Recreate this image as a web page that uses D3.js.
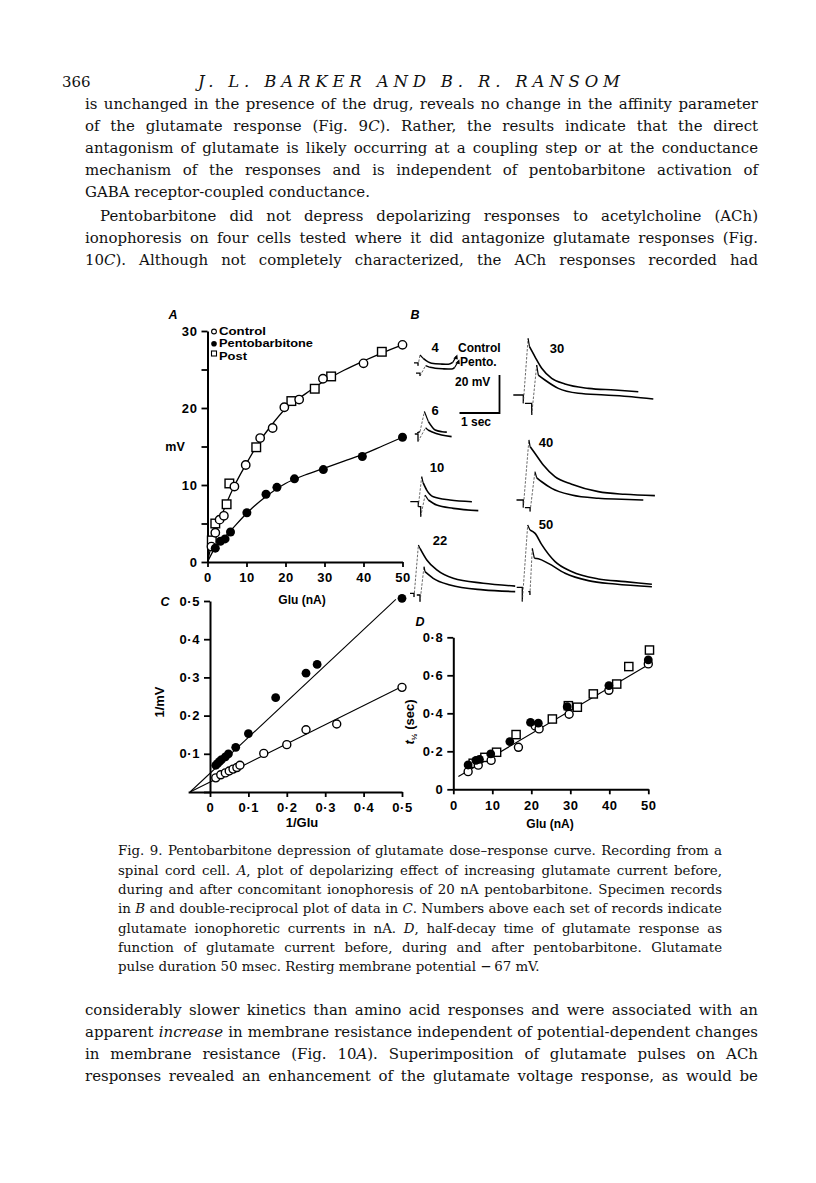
<!DOCTYPE html>
<html><head><meta charset="utf-8">
<script src="https://cdn.jsdelivr.net/npm/d3@7"></script>
<style>
body{margin:0;background:#fff;}
svg{display:block;}
</style></head>
<body>
<svg id="page" width="816" height="1183"></svg>
<script>
// ---------------- DATA ----------------
// Panel A: depolarization (mV) vs glutamate current (nA)
const aControl = [[1,2.0],[2,3.8],[3.1,5.5],[4.2,6.0],[6.9,9.8],[9.8,12.6],[13.5,16.1],[16.7,17.4],[19.7,20.1],[23.5,21.1],[29.6,23.8],[40,25.8],[50,28.2]];
const aPento = [[2,1.8],[3.3,2.7],[4.5,3.0],[5.9,3.9],[10.1,6.4],[15,8.8],[17.8,9.7],[22.3,10.8],[29.7,12.0],[39.7,13.7],[50,16.2]];
const aPost = [[1.1,2.8],[2.0,5.0],[4.9,7.5],[5.6,10.2],[12.5,14.9],[21.5,20.9],[27.5,22.5],[31.7,24.1],[44.7,27.3]];
const aControlCurve = [[0,0],[1,2.2],[2,3.9],[3,5.2],[5,7.8],[7,10.0],[10,12.8],[13,15.4],[16,17.5],[20,19.9],[25,21.8],[30,23.5],[35,24.9],[40,26.1],[45,27.2],[50,28.2]];
const aPentoCurve = [[0,0],[2,1.9],[4,3.0],[6,4.1],[10,6.3],[15,8.5],[20,10.2],[25,11.3],[30,12.2],[35,13.1],[40,14.0],[45,15.1],[50,16.2]];
const aXTicks = [0,10,20,30,40,50];
const aYTicks = [0,5,10,15,20,25,30];
const aYLabels = [0,10,20,30];
const aLegend = ["Control","Pentobarbitone","Post"];

// Panel C: double reciprocal plot
const cControl = [[0.015,0.037],[0.028,0.045],[0.04,0.05],[0.05,0.055],[0.06,0.06],[0.07,0.064],[0.078,0.07],[0.14,0.101],[0.2,0.124],[0.25,0.163],[0.33,0.178],[0.5,0.274]];
const cPento = [[0.015,0.07],[0.02,0.075],[0.025,0.08],[0.03,0.085],[0.04,0.092],[0.048,0.1],[0.067,0.117],[0.1,0.153],[0.171,0.247],[0.25,0.311],[0.279,0.334],[0.5,0.507]];
const cControlLine = [[-0.052,0],[0.5,0.276]];
const cPentoLine = [[-0.052,0],[0.484,0.504]];
const cXTicks = [0,0.1,0.2,0.3,0.4,0.5];
const cYTicks = [0,0.1,0.2,0.3,0.4,0.5];

// Panel D: half-decay time (sec) vs Glu (nA)
const dControl = [[3.8,0.093],[6.4,0.127],[9.7,0.152],[16.7,0.221],[21,0.333],[22,0.318],[29.7,0.395],[39.9,0.521],[50,0.66]];
const dPento = [[3.8,0.128],[5.8,0.152],[6.7,0.158],[9.6,0.186],[14.5,0.251],[19.8,0.352],[21.8,0.348],[29.2,0.435],[39.9,0.546],[50,0.681]];
const dPost = [[5.1,0.137],[8.1,0.168],[11.1,0.195],[16.1,0.288],[25.4,0.37],[29.5,0.44],[31.8,0.432],[35.9,0.502],[41.9,0.554],[45,0.646],[50.3,0.733]];
const dLine = [[1.3,0.067],[50,0.655]];
const dXTicks = [0,10,20,30,40,50];
const dYTicks = [0,0.2,0.4,0.6,0.8];

// Panel B: specimen records, points as [time (sec), potential (mV)]
const rec4 = {label:"4",
  control:{pre:[[-0.1,-0.5],[0,-0.5],[0,-2]], decay:[[0.05,3.7],[0.13,1.9],[0.34,-0.7],[0.6,-1.1],[0.76,-1.2],[0.87,-0.2]]},
  pento:{pre:[[-0.05,-5.9],[0.05,-5.9],[0.05,-7.4]], decay:[[0.19,-1.9],[0.3,-2.8],[0.43,-3.3],[0.65,-3.6],[0.84,-3.7],[0.92,-2.8]]}};
const rec6 = {label:"6",
  control:{pre:[[-0.02,0.6],[0.05,1.2]], decay:[[0.16,11.8],[0.26,6.5],[0.43,2.1],[0.6,1.2],[0.72,1.0]]},
  pento:{pre:[[-0.08,0],[0,0],[0,-4]], decay:[[0.19,3.3],[0.25,2.1],[0.34,1.2],[0.59,-0.5],[0.84,-1.4]]}};
const rec10 = {label:"10",
  control:{pre:[[-0.2,0],[0,0],[0,-2.6]], decay:[[0.085,13.2],[0.12,10],[0.21,6.1],[0.375,2.6],[0.79,0.9],[1.34,0]]},
  pento:{pre:[[0,-2.6],[0.06,-2.6],[0.06,-7.9]], decay:[[0.17,3.5],[0.25,0.9],[0.46,-1.8],[0.875,-3.5],[1.5,-4.7]]}};
const rec22 = {label:"22",
  control:{pre:[[-0.1,0],[0,0],[0,-2]], decay:[[0.11,25.4],[0.15,23.6],[0.32,17.5],[0.57,12.3],[0.98,7.9],[1.73,5.3],[2.53,3.8]]},
  pento:{pre:[[0.07,-0.9],[0.15,-0.9],[0.15,-4.4]], decay:[[0.25,14],[0.275,11.4],[0.48,7.9],[0.9,4.4],[1.73,1.8],[2.53,0.9]]}};
const rec30 = {label:"30",
  control:{pre:[[-0.25,0],[0,0],[0,-4.4]], decay:[[0.12,29.8],[0.155,25.4],[0.29,20.2],[0.46,14.1],[0.71,8.8],[1.04,5.8],[1.63,3.5],[2.29,2.6],[2.875,1.7]]},
  pento:{pre:[[0.04,-4.4],[0.21,-4.4],[0.21,-10.5]], decay:[[0.335,15.8],[0.375,10.5],[0.54,7.9],[0.875,3.5],[1.375,0.9],[2.04,0],[2.71,-0.9],[3.25,-2.1]]}};
const rec40 = {label:"40",
  control:{pre:[[-0.17,0],[0,0],[0,-4]], decay:[[0.14,31.6],[0.17,28.1],[0.29,24.6],[0.5,18.4],[0.79,12.3],[1.21,8.3],[1.875,4.4],[2.54,3.0],[3.29,2.3]]},
  pento:{pre:[[0.04,-4],[0.17,-4],[0.17,-6]], decay:[[0.29,14.9],[0.335,11.7],[0.46,9.6],[0.71,6.1],[1.21,2.6],[1.875,0.9],[2.46,0.4],[3.0,0]]}};
const rec50 = {label:"50",
  control:{pre:[[-0.14,0],[0,0],[0,-7.5]], decay:[[0.135,32.8],[0.19,30.2],[0.32,28.4],[0.49,22.3],[0.82,13.5],[1.23,8.3],[1.9,4.4],[2.57,3.0],[3.24,1.6]]},
  pento:{pre:[[0.15,-2.3],[0.19,-2.3],[0.19,-4]], decay:[[0.25,20.5],[0.3,15.3],[0.4,15.0],[0.65,12.6],[1.07,7.4],[1.65,3.5],[2.32,1.7],[3.24,0.3]]}};
const records = [rec4, rec6, rec10, rec22, rec30, rec40, rec50];
const scaleBarMV = 20, scaleBarSec = 1;

// Page text
const headerNum = "366";
const headerTitle = "J. L. BARKER AND B. R. RANSOM";
const para1 = [
 ["is unchanged in the presence of the drug, reveals no change in the affinity parameter", true],
 ["of the glutamate response (Fig. 9*C*). Rather, the results indicate that the direct", true],
 ["antagonism of glutamate is likely occurring at a coupling step or at the conductance", true],
 ["mechanism of the responses and is independent of pentobarbitone activation of", true],
 ["GABA receptor-coupled conductance.", false]];
const para2 = [
 ["Pentobarbitone did not depress depolarizing responses to acetylcholine (ACh)", true],
 ["ionophoresis on four cells tested where it did antagonize glutamate responses (Fig.", true],
 ["10*C*). Although not completely characterized, the ACh responses recorded had", true]];
const caption = [
 ["Fig. 9. Pentobarbitone depression of glutamate dose\u2013response curve. Recording from a", true],
 ["spinal cord cell. *A*, plot of depolarizing effect of increasing glutamate current before,", true],
 ["during and after concomitant ionophoresis of 20 nA pentobarbitone. Specimen records", true],
 ["in *B* and double-reciprocal plot of data in *C*. Numbers above each set of records indicate", true],
 ["glutamate ionophoretic currents in nA. *D*, half-decay time of glutamate response as", true],
 ["function of glutamate current before, during and after pentobarbitone. Glutamate", true],
 ["pulse duration 50 msec. Restirg membrane potential \u2212\u200967 mV.", false]];
const para3 = [
 ["considerably slower kinetics than amino acid responses and were associated with an", true],
 ["apparent *increase* in membrane resistance independent of potential-dependent changes", true],
 ["in membrane resistance (Fig. 10*A*). Superimposition of glutamate pulses on ACh", true],
 ["responses revealed an enhancement of the glutamate voltage response, as would be", true]];

// ---------------- DRAW ----------------
const svg = d3.select('#page');
svg.append('rect').attr('width',816).attr('height',1183).attr('fill','#fff');
const SANS = '"Liberation Sans", Arial, Helvetica, sans-serif';
const SERIF = '"DejaVu Serif", "Liberation Serif", serif';
const INK = '#111';

// ---- text helpers
function addRich(t, str) {
  str.split('*').forEach((s, i) => { if (s.length) t.append('tspan').attr('font-style', i % 2 ? 'italic' : null).text(s); });
}
function measure(str, size) {
  const t = svg.append('text').attr('font-family', SERIF).attr('font-size', size);
  addRich(t, str);
  const w = t.node().getComputedTextLength();
  t.remove();
  return w;
}
function fitSize(lines, width) {
  const maxW = d3.max(lines.filter(l => l[1]), l => measure(l[0], 14));
  return 14 * width / maxW;
}
function textLine(g, x, y, str, width, justify, size) {
  const t = g.append('text').attr('x', x).attr('y', y)
    .attr('font-family', SERIF).attr('font-size', size.toFixed(2)).attr('fill', INK);
  addRich(t, str);
  if (justify) {
    const nat = t.node().getComputedTextLength();
    const spaces = (str.match(/ /g) || []).length;
    if (spaces > 0) {
      t.attr('word-spacing', ((width - nat) / spaces).toFixed(2));
      const now = t.node().getComputedTextLength();
      if (Math.abs(now - width) > 2) {
        t.attr('word-spacing', null).attr('textLength', width).attr('lengthAdjust', 'spacing');
      }
    }
  }
  return t;
}
const txt = svg.append('g');
const bodyL = 85, bodyW = 673;
const bodySize = fitSize(para1.concat(para2.slice(1), para3), bodyW - 3);
const capSize = fitSize(caption, 604 - 3);
txt.append('text').attr('x', 62).attr('y', 87).attr('font-family', SERIF).attr('font-size', bodySize.toFixed(2)).attr('fill', INK).text(headerNum);
txt.append('text').attr('x', 198).attr('y', 87).attr('font-family', SERIF).attr('font-size', 16.5).attr('font-style','italic')
  .attr('fill', INK).attr('textLength', 422).attr('lengthAdjust','spacing').text(headerTitle);
const p1Y = [109,131,153,175,197];
para1.forEach((l, i) => textLine(txt, bodyL, p1Y[i], l[0], bodyW, l[1], bodySize));
const p2Y = [221,243,265];
para2.forEach((l, i) => textLine(txt, i === 0 ? 100 : bodyL, p2Y[i], l[0], i === 0 ? bodyW - 15 : bodyW, l[1], bodySize));
const capY = [855,875,894,913,933,952,971];
caption.forEach((l, i) => textLine(txt, 118, capY[i], l[0], 604, l[1], capSize));
const p3Y = [1015,1037,1059,1081];
para3.forEach((l, i) => textLine(txt, bodyL, p3Y[i], l[0], bodyW, l[1], bodySize));

// ---- figure helpers
const fig = svg.append('g').attr('font-family', SANS).attr('fill', '#000');
const dotFmt = v => (v === 0 ? '0' : d3.format('.1f')(v).replace('.', '\u00B7'));
function styleAxis(g) {
  g.select('.domain').attr('stroke', '#000').attr('stroke-width', 2);
  g.selectAll('.tick line').attr('stroke', '#000').attr('stroke-width', 1.8);
  g.selectAll('.tick text').attr('font-family', SANS).attr('font-size', 13).attr('font-weight', 'bold').attr('fill', '#000');
}
function openCircles(g, data, x, y, r) {
  g.append('g').selectAll('circle').data(data).join('circle')
    .attr('cx', d => x(d[0])).attr('cy', d => y(d[1])).attr('r', r || 4.2)
    .attr('fill', '#fff').attr('stroke', '#000').attr('stroke-width', 1.4);
}
function filledCircles(g, data, x, y, r) {
  g.append('g').selectAll('circle').data(data).join('circle')
    .attr('cx', d => x(d[0])).attr('cy', d => y(d[1])).attr('r', r || 4.5).attr('fill', '#000');
}
function openSquares(g, data, x, y, s) {
  s = s || 8.6;
  g.append('g').selectAll('rect').data(data).join('rect')
    .attr('x', d => x(d[0]) - s / 2).attr('y', d => y(d[1]) - s / 2).attr('width', s).attr('height', s)
    .attr('fill', '#fff').attr('stroke', '#000').attr('stroke-width', 1.4);
}
function panelLabel(x, y, s) {
  fig.append('text').attr('x', x).attr('y', y).attr('font-size', 12.5).attr('font-weight', 'bold')
    .attr('font-style', 'italic').attr('text-anchor', 'middle').text(s);
}

// ---- Panel A
const xA = d3.scaleLinear().domain([0, 50]).range([207.5, 402.5]);
const yA = d3.scaleLinear().domain([0, 30]).range([562, 331]);
const gA = fig.append('g');
gA.append('g').attr('transform', `translate(0,${yA(0)})`)
  .call(d3.axisBottom(xA).tickValues(aXTicks).tickSize(5).tickSizeOuter(0).tickPadding(6)).call(styleAxis);
gA.append('g').attr('transform', `translate(${xA(0)},0)`)
  .call(d3.axisLeft(yA).tickValues(aYTicks).tickSize(6).tickSizeOuter(0).tickPadding(4)
    .tickFormat(d => aYLabels.includes(d) ? d : '')).call(styleAxis);
const lineA = d3.line().x(d => xA(d[0])).y(d => yA(d[1])).curve(d3.curveMonotoneX);
gA.append('path').attr('d', lineA(aControlCurve)).attr('fill', 'none').attr('stroke', '#000').attr('stroke-width', 1.3);
gA.append('path').attr('d', lineA(aPentoCurve)).attr('fill', 'none').attr('stroke', '#000').attr('stroke-width', 1.3);
openSquares(gA, aPost, xA, yA);
openCircles(gA, aControl, xA, yA);
filledCircles(gA, aPento, xA, yA);
// legend
const legY = [334.5, 347.2, 360];
const lg = gA.append('g');
lg.append('circle').attr('cx', 214).attr('cy', legY[0] - 3).attr('r', 2.4).attr('fill', '#fff').attr('stroke', '#000').attr('stroke-width', 1.1);
lg.append('circle').attr('cx', 214).attr('cy', legY[1] - 3.5).attr('r', 2.8).attr('fill', '#000');
lg.append('rect').attr('x', 211.5).attr('y', legY[2] - 9).attr('width', 5).attr('height', 5).attr('fill', '#fff').attr('stroke', '#000').attr('stroke-width', 1.1);
aLegend.forEach((s, i) => lg.append('text').attr('x', 219).attr('y', legY[i]).attr('font-size', 11).attr('font-weight', 'bold')
  .attr('textLength', [47, 94, 28][i]).attr('lengthAdjust', 'spacingAndGlyphs').text(s));
gA.append('text').attr('x', 175).attr('y', 451).attr('text-anchor', 'middle').attr('font-size', 12.5).attr('font-weight', 'bold').text('mV');
gA.append('text').attr('x', 302).attr('y', 604).attr('text-anchor', 'middle').attr('font-size', 12).attr('font-weight', 'bold').text('Glu (nA)');
panelLabel(173, 319, 'A');

// ---- Panel B
panelLabel(415, 319, 'B');
const tS = d3.scaleLinear().domain([0, 1]).range([0, 40]);
const vS = d3.scaleLinear().domain([0, 20]).range([0, -38]);
const recLayout = [
  {ox: 418, oy: 362, lx: 435, ly: 352},
  {ox: 418, oy: 434, lx: 435, ly: 415},
  {ox: 418.3, oy: 501.7, lx: 437, ly: 472},
  {ox: 414, oy: 593.3, lx: 440, ly: 545},
  {ox: 523.3, oy: 395, lx: 557, ly: 353},
  {ox: 523.3, oy: 500, lx: 546, ly: 447},
  {ox: 522.3, oy: 587.3, lx: 546, ly: 529}];
const gB = fig.append('g');
records.forEach((rec, i) => {
  const L = recLayout[i];
  const px = d => [L.ox + tS(d[0]), L.oy + vS(d[1])];
  const lin = d3.line().x(d => px(d)[0]).y(d => px(d)[1]);
  const smooth = d3.line().x(d => px(d)[0]).y(d => px(d)[1]).curve(d3.curveMonotoneX);
  [rec.control, rec.pento].forEach(tr => {
    gB.append('path').attr('d', lin(tr.pre)).attr('fill', 'none').attr('stroke', '#000').attr('stroke-width', 1.3);
    gB.append('path').attr('d', lin([tr.pre[tr.pre.length - 1], tr.decay[0]])).attr('fill', 'none')
      .attr('stroke', '#444').attr('stroke-width', 0.8).attr('stroke-dasharray', '2.5,1.5');
    gB.append('path').attr('d', lin(tr.decay.slice(0, 2))).attr('fill', 'none').attr('stroke', '#000').attr('stroke-width', 1.2);
    gB.append('path').attr('d', smooth(tr.decay.slice(1))).attr('fill', 'none').attr('stroke', '#000').attr('stroke-width', 1.6);
  });
  gB.append('text').attr('x', L.lx).attr('y', L.ly).attr('text-anchor', 'middle').attr('font-size', 13).attr('font-weight', 'bold').text(rec.label);
  if (i === 0) {
    [rec.control, rec.pento].forEach(tr => {
      const e = px(tr.decay[tr.decay.length - 1]);
      const tip = [e[0] + 3.5, e[1] - 6];
      gB.append('line').attr('x1', e[0]).attr('y1', e[1]).attr('x2', tip[0]).attr('y2', tip[1]).attr('stroke', '#000').attr('stroke-width', 1.2);
      gB.append('path').attr('d', `M${tip[0] + 1},${tip[1] - 2}L${tip[0] - 3},${tip[1] + 2}L${tip[0] + 1.5},${tip[1] + 3}Z`).attr('fill', '#000');
    });
  }
});
gB.append('text').attr('x', 458).attr('y', 352).attr('font-size', 12).attr('font-weight', 'bold').text('Control');
gB.append('text').attr('x', 460).attr('y', 366).attr('font-size', 12).attr('font-weight', 'bold').text('Pento.');
const sbx = 499.5, sby = 413;
gB.append('path').attr('d', `M${sbx + tS(-scaleBarSec)},${sby}H${sbx}V${sby + vS(scaleBarMV)}`)
  .attr('fill', 'none').attr('stroke', '#000').attr('stroke-width', 1.8);
gB.append('text').attr('x', 455).attr('y', 386).attr('font-size', 12).attr('font-weight', 'bold').text(scaleBarMV + ' mV');
gB.append('text').attr('x', 461).attr('y', 426).attr('font-size', 12).attr('font-weight', 'bold').text(scaleBarSec + ' sec');

// ---- Panel C
const xC = d3.scaleLinear().domain([0, 0.5]).range([210, 402]);
const yC = d3.scaleLinear().domain([0, 0.5]).range([792, 601]);
const xCax = xC.copy().domain([-0.057, 0.5]).range([xC(-0.057), xC(0.5)]);
const gC = fig.append('g');
gC.append('g').attr('transform', `translate(0,${yC(0)})`)
  .call(d3.axisBottom(xCax).tickValues(cXTicks).tickSize(5).tickSizeOuter(0).tickPadding(6).tickFormat(dotFmt)).call(styleAxis);
gC.append('g').attr('transform', `translate(${xC(0)},0)`)
  .call(d3.axisLeft(yC).tickValues(cYTicks).tickSize(6).tickSizeOuter(0).tickPadding(4).tickFormat(d => d === 0 ? '' : dotFmt(d))).call(styleAxis);
const lineC = d3.line().x(d => xC(d[0])).y(d => yC(d[1]));
[cControlLine, cPentoLine].forEach(l => gC.append('path').attr('d', lineC(l)).attr('fill', 'none').attr('stroke', '#000').attr('stroke-width', 1.1));
openCircles(gC, cControl, xC, yC, 4);
filledCircles(gC, cPento, xC, yC, 4.4);
gC.append('text').attr('x', 302).attr('y', 827).attr('text-anchor', 'middle').attr('font-size', 13).attr('font-weight', 'bold').text('1/Glu');
gC.append('text').attr('transform', 'translate(164,702) rotate(-90)').attr('text-anchor', 'middle').attr('font-size', 13).attr('font-weight', 'bold').text('1/mV');
panelLabel(165, 606, 'C');

// ---- Panel D
const xD = d3.scaleLinear().domain([0, 50]).range([453.3, 648.3]);
const yD = d3.scaleLinear().domain([0, 0.8]).range([789.3, 637.3]);
const gD = fig.append('g');
gD.append('g').attr('transform', `translate(0,${yD(0)})`)
  .call(d3.axisBottom(xD).tickValues(dXTicks).tickSize(5).tickSizeOuter(0).tickPadding(6)).call(styleAxis);
gD.append('g').attr('transform', `translate(${xD(0)},0)`)
  .call(d3.axisLeft(yD).tickValues(dYTicks).tickSize(6).tickSizeOuter(0).tickPadding(4).tickFormat(dotFmt)).call(styleAxis);
const lineD = d3.line().x(d => xD(d[0])).y(d => yD(d[1]));
gD.append('path').attr('d', lineD(dLine)).attr('fill', 'none').attr('stroke', '#000').attr('stroke-width', 1.2);
openSquares(gD, dPost, xD, yD, 8.2);
openCircles(gD, dControl, xD, yD, 4);
filledCircles(gD, dPento, xD, yD, 4.4);
gD.append('text').attr('x', 550).attr('y', 828).attr('text-anchor', 'middle').attr('font-size', 12).attr('font-weight', 'bold').text('Glu (nA)');
const tl = gD.append('text').attr('transform', 'translate(414,722) rotate(-90)').attr('text-anchor', 'middle').attr('font-size', 13).attr('font-weight', 'bold');
tl.append('tspan').attr('font-style', 'italic').text('t');
tl.append('tspan').attr('font-size', 8).attr('dy', 3).text('\u00BD');
tl.append('tspan').attr('dy', -3).text(' (sec)');
panelLabel(420, 626, 'D');

fig.selectAll('.tick text').attr('letter-spacing', 0.6);
</script>
</body></html>
